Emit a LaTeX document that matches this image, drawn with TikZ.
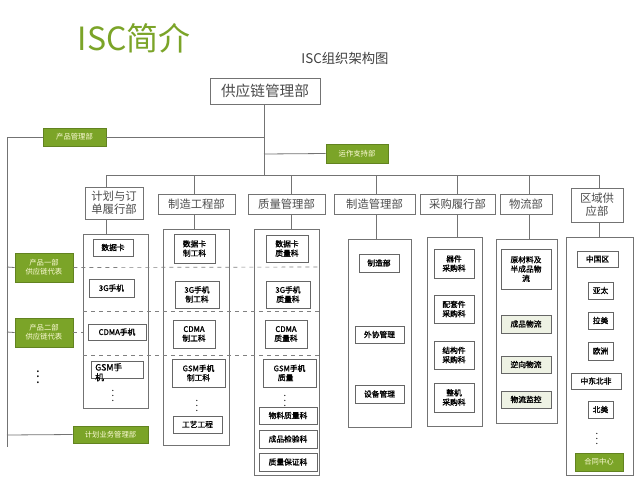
\documentclass[tikz,border=0pt]{standalone}
\usepackage{fontspec}
\setmainfont{Noto Sans CJK SC}
\newfontfamily\cjkb[FakeBold=1.5]{Noto Sans CJK SC}
\definecolor{gr}{HTML}{7BA428}
\definecolor{lg}{HTML}{EEF2E4}
\begin{document}
\begin{tikzpicture}[x=0.75pt,y=-0.75pt,
  line/.style={draw=black!55,line width=0.6pt},
  dept/.style={draw=black!55,line width=0.6pt,font=\fontsize{8.5}{9.5}\selectfont,text=black!70,align=center,inner sep=0pt},
  cont/.style={draw=black!55,line width=0.6pt,inner sep=0pt},
  ib/.style={draw=black!60,line width=0.6pt,font=\cjkb\fontsize{5.8}{7}\selectfont,align=center,inner sep=0pt},
  gb/.style={draw=gr!80!black,fill=gr,line width=0.6pt,font=\fontsize{5.5}{6.5}\selectfont,text=white!85!yellow,align=center,inner sep=0pt},
  vd/.style={inner sep=0pt,font=\fontsize{7}{7}\selectfont},
  dsh/.style={draw=black!50,dashed,line width=0.5pt}]
\newcommand\bx[7][]{\node[#1,minimum width={(#4-#2)*0.75pt},minimum height={(#5-#3)*0.75pt}] (#7) at ({(#2+#4)/2},{(#3+#5)/2}) {#6};}
\useasboundingbox (0,0) rectangle (640,480);
\fill[white] (0,0) rectangle (640,480);
\node[text=gr,font=\fontsize{24}{26}\selectfont,anchor=west] (title) at (73,38) {ISC简介};
\node[text=black!75,font=\fontsize{10}{12}\selectfont] (sub) at (345,58) {ISC组织架构图};
\bx[dept,font=\fontsize{11}{12}\selectfont]{210}{78}{320}{104}{供应链管理部}{top}
\bx[gb]{43}{128}{106}{146}{产品管理部}{pm}
\bx[gb]{326}{144}{388}{163}{运作支持部}{os}
\coordinate (j1) at (264,137);
\coordinate (j2) at (264,154);
\coordinate (j3) at (264,175);
\coordinate (lt) at (7,137);
\coordinate (lb) at (7,447);
\draw[line] (top.south -| j1) -- (j3);
\draw[line] (lt) -- (pm.west); \draw[line] (pm.east) -- (j1);
\draw[line] (j2) -- (os.west);
\draw[line] (lt) -- (lb);
\draw[line] (106,175) -- (599,175);
% departments
\bx[dept]{85}{187}{143}{219}{计划与订\\单履行部}{d1}
\bx[dept]{158}{194}{235}{214}{制造工程部}{d2}
\bx[dept]{248}{194}{325}{214}{质量管理部}{d3}
\bx[dept]{334}{194}{415}{214}{制造管理部}{d4}
\bx[dept]{420}{194}{495}{214}{采购履行部}{d5}
\bx[dept]{500}{194}{552}{214}{物流部}{d6}
\bx[dept]{571}{188}{623}{222}{区域供\\应部}{d7}
% containers
\bx[cont]{83}{234}{148}{408}{}{c1}
\bx[cont]{163}{229}{229}{445}{}{c2}
\bx[cont]{254}{229}{319}{475}{}{c3}
\bx[cont]{348}{239}{411}{427}{}{c4}
\bx[cont]{427}{237}{482}{426}{}{c5}
\bx[cont]{496}{239}{557}{423}{}{c6}
\bx[cont]{566}{237}{633}{475}{}{c7}
\foreach \x/\d/\c in {106/d1/c1,194/d2/c2,291/d3/c3,376/d4/c4,457/d5/c5,529/d6/c6,599/d7/c7}{
  \draw[line] (\x,175) -- (\d.north -| {(\x,0)});
  \draw[line] (\d.south -| {(\x,0)}) -- (\c.north -| {(\x,0)});
}
% left green
\bx[gb]{15}{253}{73}{282}{产品一部\\供应链代表}{g1}
\bx[gb]{15}{318}{73}{347}{产品二部\\供应链代表}{g2}
\bx[gb]{73}{426}{148}{443}{计划业务管理部}{g3}
\draw[line] (7,267) -- (g1.west);
\draw[line] (7,332) -- (g2.west);
\draw[line] (7,435) -- (g3.west);
\draw[dsh] (g1.east) -- (319,267);
\draw[dsh] (83,311) -- (319,311);
\draw[dsh] (g2.east) -- (c1.west |- g2.east);
\draw[dsh] (83,355) -- (319,355);
\node[vd,font=\fontsize{10}{10}\selectfont] (ld) at (38,373) {$\vdots$};
% col1
\bx[ib]{93}{239}{133}{256}{数据卡}{a1}
\bx[ib]{89}{279}{134}{297}{3G手机}{a2}
\bx[ib]{88}{324}{146}{340}{CDMA手机}{a3}
\bx[ib]{91}{361}{143}{378}{}{a4}
\node[font=\cjkb\fontsize{6.5}{7.5}\selectfont,align=left,anchor=north west,inner sep=0pt] (a4t) at (95,363) {GSM手\\机};
\node[vd] (a5) at (113,392) {$\vdots$};
% col2
\bx[ib]{174}{234}{215}{263}{数据卡\\制工科}{b1}
\bx[ib]{175}{281}{219}{308}{3G手机\\制工科}{b2}
\bx[ib]{173}{320}{215}{348}{CDMA\\制工科}{b3}
\bx[ib]{172}{359}{225}{387}{GSM手机\\制工科}{b4}
\node[vd] (b5) at (197,402) {$\vdots$};
\bx[ib]{173}{416}{222}{433}{工艺工程}{b6}
% col3
\bx[ib]{266}{235}{308}{262}{数据卡\\质量科}{e1}
\bx[ib]{266}{281}{310}{308}{3G手机\\质量科}{e2}
\bx[ib]{265}{320}{307}{348}{CDMA\\质量科}{e3}
\bx[ib]{263}{359}{316}{387}{GSM手机\\质量\phantom{科}}{e4}
\node[vd] (e5) at (285,397) {$\vdots$};
\bx[ib]{259}{407}{317}{424}{物料质量科}{e6}
\bx[ib]{259}{430}{317}{448}{成品检验科}{e7}
\bx[ib]{259}{453}{317}{471}{质量保证科}{e8}
% col4
\bx[ib]{359}{254}{399}{272}{制造部}{f1}
\bx[ib]{355}{326}{404}{343}{外协管理}{f2}
\bx[ib]{355}{385}{404}{403}{设备管理}{f3}
% col5
\bx[ib]{434}{249}{474}{278}{器件\\采购科}{h1}
\bx[ib]{434}{295}{474}{323}{配套件\\采购科}{h2}
\bx[ib]{434}{341}{474}{369}{结构件\\采购科}{h3}
\bx[ib]{434}{383}{474}{412}{整机\\采购科}{h4}
% col6
\bx[ib]{501}{249}{551}{289}{原材料及\\半成品物\\流}{k1}
\bx[ib,fill=lg]{501}{315}{551}{333}{成品物流}{k2}
\bx[ib,fill=lg]{501}{356}{551}{373}{逆向物流}{k3}
\bx[ib,fill=lg]{501}{391}{551}{408}{物流监控}{k4}
% col7
\bx[ib]{577}{251}{618}{267}{中国区}{m1}
\bx[ib]{588}{282}{613}{299}{亚太}{m2}
\bx[ib]{588}{312}{613}{329}{拉美}{m3}
\bx[ib]{588}{342}{613}{360}{欧洲}{m4}
\bx[ib]{571}{373}{621}{389}{中东北非}{m5}
\bx[ib]{588}{401}{613}{418}{北美}{m6}
\node[vd] (m7) at (597,435) {$\vdots$};
\bx[gb]{575}{453}{623}{471}{合同中心}{m8}
\end{tikzpicture}
\end{document}
